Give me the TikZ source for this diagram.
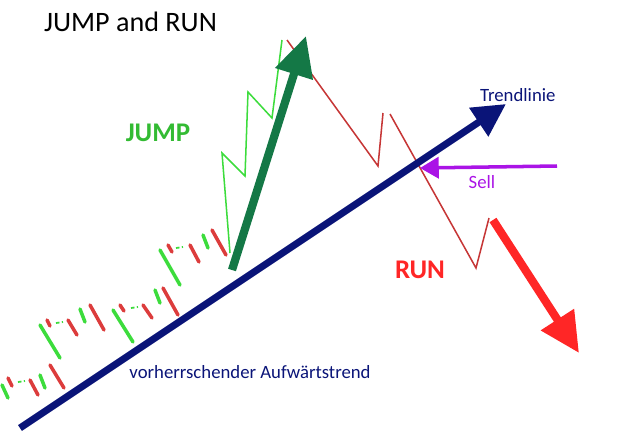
\documentclass[tikz,border=0pt]{standalone}
\usepackage{fontspec}
\setmainfont{Carlito}
\usetikzlibrary{arrows.meta}
\definecolor{trendblau}{RGB}{10,20,120}
\definecolor{jumpgruen}{RGB}{20,120,70}
\definecolor{hellgruen}{RGB}{60,220,60}
\definecolor{kerzenrot}{RGB}{220,60,60}
\definecolor{lila}{RGB}{170,20,230}
\tikzset{
  kerze/.style={line width=3pt, line cap=round},
  zickzack/.style={line width=1.3pt},
}
\begin{document}
\begin{tikzpicture}[x=0.03cm, y=-0.03cm]

        % Bildgroesse
        \useasboundingbox (0,0) rectangle (640,438);

        % Titel
        \node[anchor=west, font=\fontsize{24}{26}\selectfont] (titel) at (40,22) {JUMP and RUN};

        % Kerzen (gruen/rot), leicht schraeg
        \foreach \xa/\ya/\xb/\yb/\farbe in {
            2/385/8/398/hellgruen, 8/378/12/386/kerzenrot, 30/380/38/395/kerzenrot,
            40/375/45/388/hellgruen, 50/365/64/388/kerzenrot,
            40/325/60/358/hellgruen, 47/320/50/326/kerzenrot, 68/320/77/335/kerzenrot,
            80/309/85/322/hellgruen, 90/305/104/330/kerzenrot,
            113/310/133/342/hellgruen, 120/305/124/311/kerzenrot, 143/305/152/318/kerzenrot,
            155/290/160/303/hellgruen, 163/288/178/315/kerzenrot,
            160/250/180/285/hellgruen, 168/245/172/252/kerzenrot, 190/245/199/262/kerzenrot,
            203/235/208/248/hellgruen, 212/230/226/255/kerzenrot}
          \draw[kerze, \farbe] (\xa,\ya) -- (\xb,\yb);

        % kleine Verbindungsstriche
        \foreach \xa/\ya in {18/382, 56/323, 131/308, 176/248}
          \draw[hellgruen, line width=1.5pt, dash pattern=on 3pt off 2pt] (\xa,\ya) -- ++(7,-1);

        % JUMP-Zickzack (gruen)
        \draw[zickzack, hellgruen] (230,253) -- (222,153) -- (245,176) -- (248,92)
             -- (272,118) -- (282,40);

        % RUN-Zickzack (rot)
        \draw[zickzack, kerzenrot!90!black] (287,40) -- (378,166) -- (383,113);
        \draw[zickzack, kerzenrot!90!black] (390,114) -- (476,268) -- (489,218);

        % Trendlinie
        \coordinate (t0) at (20,428);
        \coordinate (t1) at (506,104);
        \draw[trendblau, line width=6pt, -{Triangle[length=28pt, width=28pt]}] (t0) -- (t1);

        % JUMP-Pfeil
        \coordinate (j0) at (232,270);
        \coordinate (j1) at (306,36);
        \draw[jumpgruen, line width=7pt, -{Triangle[length=34pt, width=32pt]}] (j0) -- (j1);

        % RUN-Pfeil
        \coordinate (r0) at (493,220);
        \coordinate (r1) at (579,353);
        \draw[red!85!white, line width=7pt, -{Triangle[length=34pt, width=32pt]}] (r0) -- (r1);

        % Sell-Pfeil
        \coordinate (s0) at (557,166);
        \coordinate (s1) at (420,168);
        \draw[lila, line width=3pt, -{Triangle[length=16pt, width=18pt]}] (s0) -- (s1);

        % Beschriftungen
        \node[hellgruen!85!black, font=\bfseries\fontsize{23}{25}\selectfont] (jump) at (158,133) {JUMP};
        \node[red!85!white, font=\bfseries\fontsize{23}{25}\selectfont] (run) at (420,270) {RUN};
        \node[trendblau, anchor=west, font=\fontsize{16}{18}\selectfont] (trend) at (476,95) {Trendlinie};
        \node[lila, font=\fontsize{16}{18}\selectfont] (sell) at (482,182) {Sell};
        \node[trendblau, font=\fontsize{16}{18}\selectfont] (aufw) at (250,372) {vorherrschender Aufwärtstrend};

    \end{tikzpicture}
\end{document}
